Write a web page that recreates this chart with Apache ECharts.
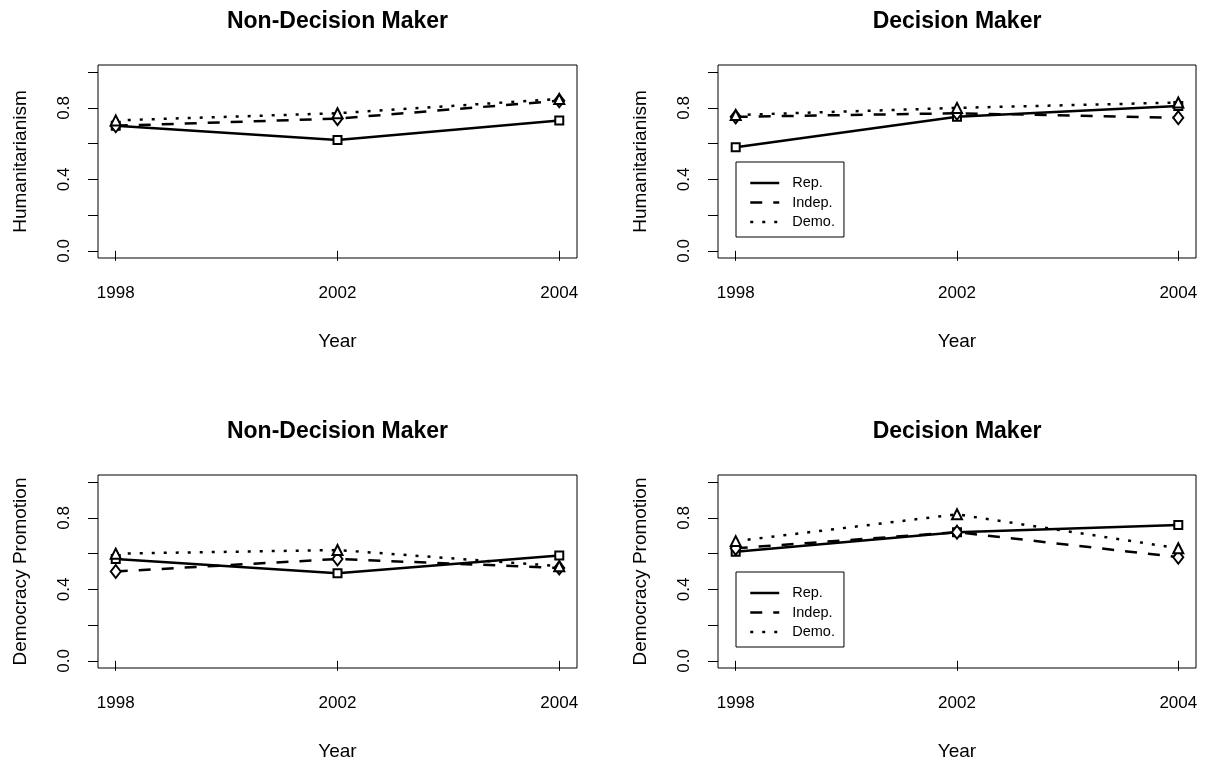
<!DOCTYPE html>
<html><head><meta charset="utf-8">
<script src="https://cdn.jsdelivr.net/npm/echarts@6/dist/echarts.min.js"></script>
<style>html,body{margin:0;padding:0;background:#fff}#c{width:1209px;height:768px}</style>
</head><body><div id="c"></div>
<script>
// ---- data ----
const years = ['1998', '2002', '2004'];
const seriesNames = ['Rep.', 'Indep.', 'Demo.'];
const panelTitles = ['Non-Decision Maker', 'Decision Maker', 'Non-Decision Maker', 'Decision Maker'];
const yNames = ['Humanitarianism', 'Humanitarianism', 'Democracy Promotion', 'Democracy Promotion'];
const yTicks = [0, 0.2, 0.4, 0.6, 0.8, 1.0];
const yLabels = [0, 0.4, 0.8];

const humNonRep   = [0.70, 0.62, 0.73];
const humNonIndep = [0.70, 0.74, 0.84];
const humNonDemo  = [0.73, 0.77, 0.85];
const humDecRep   = [0.58, 0.75, 0.81];
const humDecIndep = [0.75, 0.77, 0.745];
const humDecDemo  = [0.76, 0.80, 0.83];
const demNonRep   = [0.57, 0.49, 0.59];
const demNonIndep = [0.50, 0.57, 0.52];
const demNonDemo  = [0.60, 0.62, 0.53];
const demDecRep   = [0.61, 0.72, 0.76];
const demDecIndep = [0.63, 0.72, 0.58];
const demDecDemo  = [0.67, 0.82, 0.63];

// ---- chart ----
const panelData = [
  [humNonRep, humNonIndep, humNonDemo],
  [humDecRep, humDecIndep, humDecDemo],
  [demNonRep, demNonIndep, demNonDemo],
  [demDecRep, demDecIndep, demDecDemo]
];
const FONT = '"Liberation Sans", Arial, Helvetica, sans-serif';
const grids = [
  {left: 98, top: 65, width: 479, height: 193},
  {left: 718, top: 65, width: 478, height: 193},
  {left: 98, top: 475, width: 479, height: 193},
  {left: 718, top: 475, width: 478, height: 193}
];
const styles = [
  {type: 'solid', symbol: 'emptyRect', size: 8},
  {type: [12, 11], symbol: 'emptyDiamond', size: [10, 13]},
  {type: [3, 9], symbol: 'emptyTriangle', size: 10}
];
const xIdx = years.map((y, k) => k + 1);

const option = {
  backgroundColor: '#fff',
  animation: false,
  textStyle: {fontFamily: FONT, color: '#000'},
  title: grids.map((g, i) => ({
    text: panelTitles[i],
    left: g.left + g.width / 2,
    top: g.top - 55,
    textAlign: 'center',
    padding: 0,
    textStyle: {fontSize: 23, fontWeight: 'bold', color: '#000', fontFamily: FONT}
  })),
  grid: grids.map(g => Object.assign({show: true, borderColor: '#000', borderWidth: 1, backgroundColor: 'transparent', containLabel: false}, g)),
  xAxis: grids.map((g, i) => ({
    gridIndex: i, type: 'value', min: 0.92, max: 3.08,
    axisLine: {show: false}, splitLine: {show: false},
    axisTick: {show: true, length: 10, customValues: xIdx, lineStyle: {color: '#000', width: 1}},
    axisLabel: {customValues: xIdx, formatter: v => years[Math.round(v) - 1], fontSize: 17, color: '#000', margin: 27, fontFamily: FONT},
    name: 'Year', nameLocation: 'middle', nameGap: 74,
    nameTextStyle: {fontSize: 19, color: '#000', fontFamily: FONT}
  })),
  yAxis: grids.map((g, i) => ({
    gridIndex: i, type: 'value', min: -0.04, max: 1.04,
    axisLine: {show: false}, splitLine: {show: false},
    axisTick: {show: true, length: 10, customValues: yTicks, lineStyle: {color: '#000', width: 1}},
    axisLabel: {customValues: yLabels, rotate: 90, formatter: v => v.toFixed(1), fontSize: 17, color: '#000', margin: 25, fontFamily: FONT},
    name: yNames[i], nameLocation: 'middle', nameGap: 68,
    nameTextStyle: {fontSize: 19, color: '#000', fontFamily: FONT}
  })),
  legend: [162, 572].map(t => ({
    data: seriesNames, orient: 'vertical', left: 736, top: t,
    selectedMode: false,
    padding: [13, 9, 7, 13], itemGap: 3.5, itemWidth: 29, itemHeight: 12,
    borderColor: '#000', borderWidth: 1, borderRadius: 0, backgroundColor: '#fff',
    itemStyle: {opacity: 0},
    lineStyle: {width: 2.5},
    textStyle: {fontSize: 14.5, lineHeight: 16, color: '#000', fontFamily: FONT, padding: [0, 0, 0, 8]}
  })),
  series: []
};

grids.forEach((g, i) => {
  seriesNames.forEach((name, s) => {
    option.series.push({
      type: 'line', name: name, xAxisIndex: i, yAxisIndex: i,
      data: xIdx.map((x, k) => [x, panelData[i][s][k]]),
      symbol: styles[s].symbol, symbolSize: styles[s].size, showSymbol: true,
      lineStyle: {color: '#000', width: 2.5, type: styles[s].type},
      itemStyle: {color: '#000', borderColor: '#000', borderWidth: 2},
      silent: true, z: 2 + s
    });
  });
});

const chart = echarts.init(document.getElementById('c'));
chart.setOption(option);
</script>
</body></html>
